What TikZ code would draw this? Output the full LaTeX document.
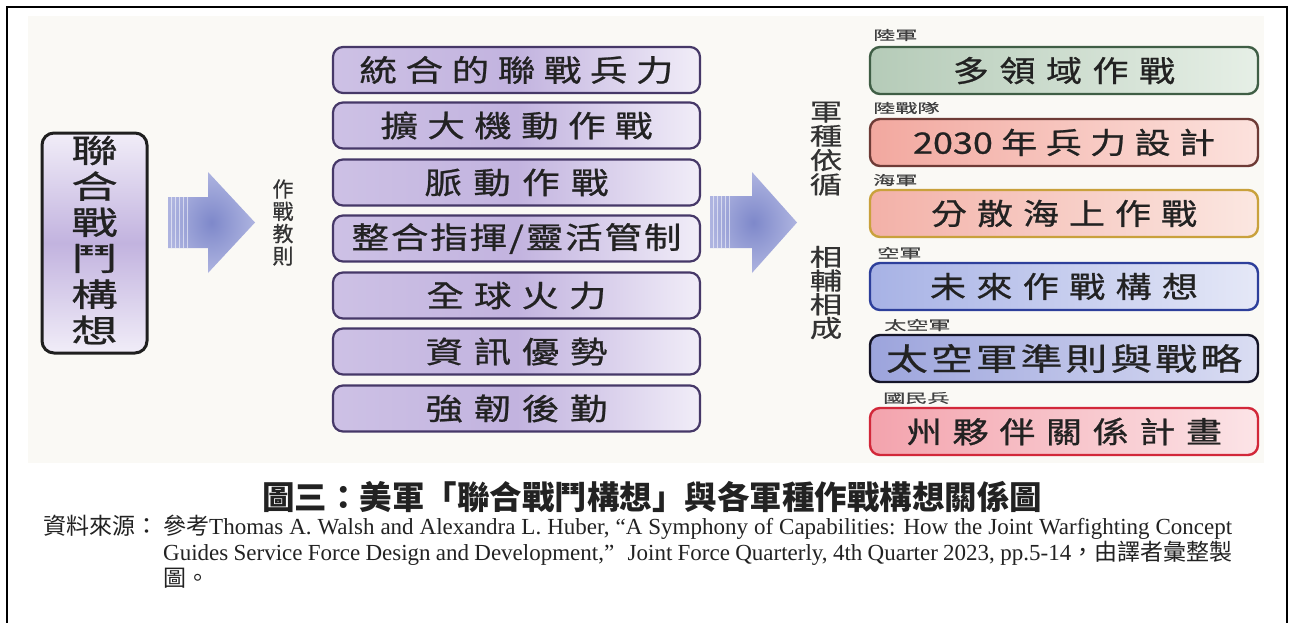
\documentclass[tikz,border=0pt]{standalone}
\usepackage{fontspec}
\setmainfont{Liberation Serif}
\newfontfamily\cjk{Noto Sans CJK TC}
\newfontfamily\cjkM[FakeStretch=1.25,FakeBold=0.8]{Noto Sans CJK TC}
\newfontfamily\cjkR[FakeStretch=1.22,FakeBold=0.8]{Noto Sans CJK TC}
\newfontfamily\cjkE[FakeStretch=1.35,FakeBold=0.8]{Noto Sans CJK TC}
\newfontfamily\cjkL[FakeStretch=1.45,FakeBold=0.8]{Noto Sans CJK TC}
\newfontfamily\cjkS[FakeStretch=1.7,FakeBold=0.5]{Noto Sans CJK TC}
\newfontfamily\cjkV[FakeStretch=1.35,FakeBold=0.5]{Noto Sans CJK TC}
\newfontfamily\cjkD[FakeBold=0.5]{Noto Sans CJK TC}
\ExplSyntaxOn
\NewDocumentCommand\spreadtext{mm}{%
  \makebox[#1][s]{\bool_set_false:N \l_tmpa_bool
    \tl_map_inline:nn {#2}{\bool_if:NT \l_tmpa_bool {\hfil}\bool_set_true:N \l_tmpa_bool ##1}}}
\ExplSyntaxOff
\definecolor{bgcream}{HTML}{FAF9F5}
\definecolor{lavA}{HTML}{CDC1E5}
\definecolor{lavB}{HTML}{C2B3DF}
\definecolor{lavC}{HTML}{F1EDF8}
\definecolor{lavborder}{HTML}{463868}
\definecolor{arrowin}{HTML}{7E88CA}
\definecolor{arrowout}{HTML}{AEB4E0}
\definecolor{txt}{HTML}{222222}
\definecolor{gA}{HTML}{B5CBB8}\definecolor{gAr}{HTML}{E6EFE6}\definecolor{gAb}{HTML}{3F5E45}
\definecolor{rB}{HTML}{F2A89F}\definecolor{rBr}{HTML}{FCE2DD}\definecolor{rBb}{HTML}{6E3B36}
\definecolor{oC}{HTML}{F3B1A8}\definecolor{oCr}{HTML}{FBE7E1}\definecolor{oCb}{HTML}{C9A13C}
\definecolor{bD}{HTML}{A7B2E5}\definecolor{bDr}{HTML}{E5E8F7}\definecolor{bDb}{HTML}{2D3F9B}
\definecolor{bE}{HTML}{9CA4DC}\definecolor{bEr}{HTML}{DADDF3}\definecolor{bEb}{HTML}{151528}
\definecolor{rF}{HTML}{F3A3AD}\definecolor{rFr}{HTML}{FCE4E7}\definecolor{rFb}{HTML}{D2283A}
\tikzset{
  midbox/.style={draw=lavborder, line width=2.2pt, rounded corners=10pt,
    minimum width=367pt, minimum height=46pt, inner sep=0pt,
    left color=lavA, right color=lavC, middle color=lavB, text=txt,
    font=\cjkM\fontsize{30}{32}\selectfont},
  rbox/.style={line width=2.4pt, rounded corners=10pt,
    minimum width=388pt, minimum height=47pt, inner sep=0pt, text=txt,
    font=\cjkR\fontsize{29.5}{31}\selectfont},
  svclabel/.style={anchor=west, inner sep=0pt, text=black!75,
    font=\cjkS\fontsize{13}{13}\selectfont},
  vtext/.style={align=center, inner sep=0pt, text=black!80},
  blockarrow/.style={inner color=arrowin, outer color=arrowout},
  stripe/.style={white, opacity=0.55, line width=0.9pt},
}
\begin{document}
\begin{tikzpicture}[x=1pt,y=-1pt]
\useasboundingbox (0,0) rectangle (1292,623);
\fill[white] (0,0) rectangle (1292,623);
\fill[bgcream] (28,16) rectangle (1264,463);
\draw[line width=2pt] (7,623) -- (7,7) -- (1287,7) -- (1287,623);

% left box
\node[draw=black!88, line width=3pt, rounded corners=12pt, minimum width=105pt,
  minimum height=220pt, inner sep=0pt, top color=lavC, bottom color=lavC,
  middle color=lavB] (jwc) at (94.5,243) {};
\node[vtext, text=txt, font=\cjkL\fontsize{32}{36}\selectfont] (jwct) at (94.5,240)
  {聯\\合\\戰\\鬥\\構\\想};

% arrow 1
\shade[blockarrow] (168,197) -- (208,197) -- (208,172) -- (255,222.5) -- (208,273)
  -- (208,248) -- (168,248) -- cycle;
\foreach \xx in {171,175,179,183,187} \draw[stripe] (\xx,197) -- (\xx,248);

\node[vtext, font=\cjkD\fontsize{21}{22.3}\selectfont] (doc) at (283,222.5)
  {作\\戰\\教\\則};

% middle boxes
\node[midbox] (m1) at (516.5,70)    {\spreadtext{314pt}{統合的聯戰兵力}};
\node[midbox] (m2) at (516.5,125.5) {\spreadtext{272pt}{擴大機動作戰}};
\node[midbox] (m3) at (516.5,182.5) {\spreadtext{184pt}{脈動作戰}};
\node[midbox] (m4) at (516.5,238.5) {\spreadtext{330pt}{整合指揮/靈活管制}};
\node[midbox] (m5) at (516.5,295.5) {\spreadtext{180pt}{全球火力}};
\node[midbox] (m6) at (516.5,351.5) {\spreadtext{182pt}{資訊優勢}};
\node[midbox] (m7) at (516.5,408.5) {\spreadtext{182pt}{強韌後勤}};

% arrow 2
\shade[blockarrow] (710,196) -- (752,196) -- (752,172) -- (797,222.5) -- (752,273)
  -- (752,248) -- (710,248) -- cycle;
\foreach \xx in {713,717,721,725,729} \draw[stripe] (\xx,196) -- (\xx,248);

\node[vtext, font=\cjkV\fontsize{24}{24.3}\selectfont] (follow) at (826,148.5)
  {軍\\種\\依\\循};
\node[vtext, font=\cjkV\fontsize{24}{23.7}\selectfont] (mutual) at (826,292.5)
  {相\\輔\\相\\成};

% right boxes
\node[svclabel] (la) at (873,35) {陸軍};
\node[rbox, draw=gAb, left color=gA, right color=gAr] (ra) at (1064,70.5)
  {\spreadtext{222pt}{多領域作戰}};
\node[svclabel] (lb) at (873,108) {陸戰隊};
\node[rbox, draw=rBb, left color=rB, right color=rBr] (rb) at (1064,142.5)
  {\spreadtext{302pt}{{2030}年兵力設計}};
\node[svclabel] (lc) at (873,180) {海軍};
\node[rbox, draw=oCb, left color=oC, right color=oCr] (rc) at (1064,213.5)
  {\spreadtext{266pt}{分散海上作戰}};
\node[svclabel] (ld) at (877,253) {空軍};
\node[rbox, draw=bDb, left color=bD, right color=bDr] (rd) at (1064,286.5)
  {\spreadtext{268pt}{未來作戰構想}};
\node[svclabel] (le) at (884,325) {太空軍};
\node[rbox, draw=bEb, left color=bE, right color=bEr,
  font=\cjkE\fontsize{31}{33}\selectfont] (re) at (1064,358.5)
  {\spreadtext{356pt}{太空軍準則與戰略}};
\node[svclabel] (lf) at (883,398) {國民兵};
\node[rbox, draw=rFb, left color=rF, right color=rFr] (rf) at (1064,431.5)
  {\spreadtext{316pt}{州夥伴關係計畫}};

% caption
\node[anchor=base, inner sep=0pt, text=txt, font=\cjk\bfseries\fontsize{32.5}{34}\selectfont]
  (title) at (652,509) {圖三：美軍「聯合戰鬥構想」與各軍種作戰構想關係圖};
\node[anchor=base west, inner sep=0pt, text=txt, font=\cjk\fontsize{23}{26}\selectfont]
  (srclabel) at (43,534) {資料來源：};
\node[anchor=base west, inner sep=0pt, text=txt, font=\fontsize{23}{26}\selectfont]
  (src1) at (163,534) {\makebox[1069pt][s]{{\cjk 參考}Thomas A. Walsh and Alexandra L. Huber, “A Symphony of Capabilities: How the Joint Warfighting Concept}};
\node[anchor=base west, inner sep=0pt, text=txt, font=\fontsize{23}{26}\selectfont]
  (src2) at (163,560) {\makebox[1069pt][s]{Guides Service Force Design and Development,”\hspace{8pt} Joint Force Quarterly, 4th Quarter 2023, pp.5-14{\cjk ，由譯者彙整製}}};
\node[anchor=base west, inner sep=0pt, text=txt, font=\cjk\fontsize{23}{26}\selectfont]
  (src3) at (163,586) {圖。};
\end{tikzpicture}
\end{document}
